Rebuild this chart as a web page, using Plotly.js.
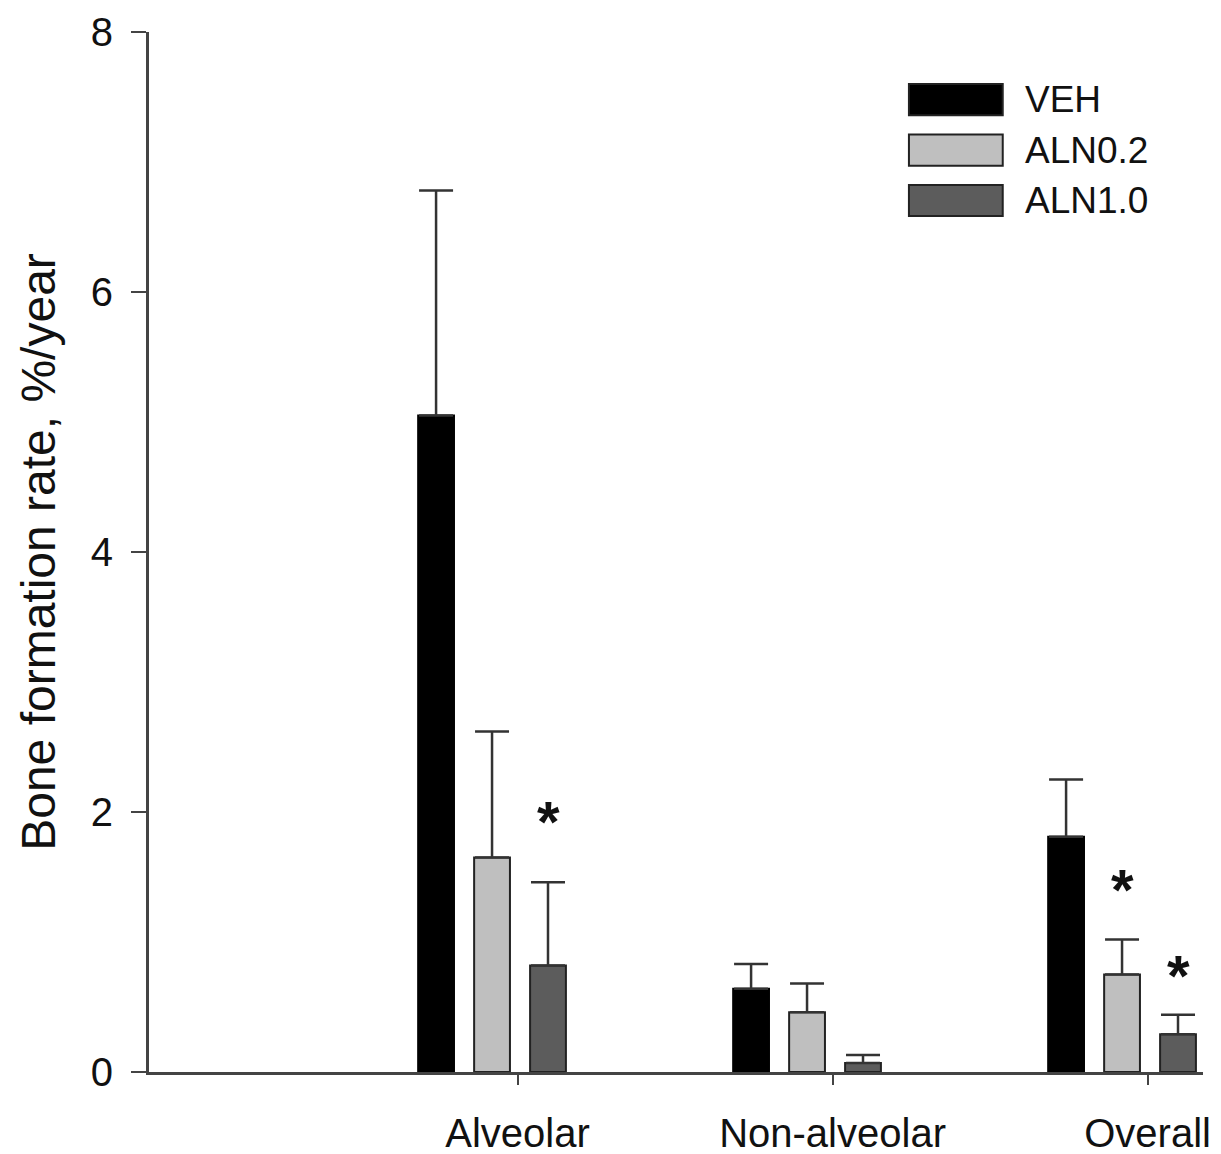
<!DOCTYPE html>
<html>
<head>
<meta charset="utf-8">
<script src="https://cdn.plot.ly/plotly-3.0.1.min.js"></script>
<style>html,body{margin:0;padding:0;background:#fff;}#chart{width:1221px;height:1154px;}</style>
</head>
<body>
<div id="chart"></div>
<script>
// ---- data ----
const categories = ['Alveolar', 'Non-alveolar', 'Overall'];
const seriesNames = ['VEH', 'ALN0.2', 'ALN1.0'];
const vehValues   = [5.05, 0.64, 1.81];
const vehErrors   = [1.73, 0.19, 0.44];
const aln02Values = [1.65, 0.46, 0.75];
const aln02Errors = [0.97, 0.22, 0.27];
const aln10Values = [0.82, 0.07, 0.29];
const aln10Errors = [0.64, 0.06, 0.15];
// significance markers: category, series index, height of the star
const starCategories = ['Alveolar', 'Overall', 'Overall'];
const starSeries     = [2, 1, 2];
const starHeights    = [1.98, 1.46, 0.80];
const yTickValues = [0, 2, 4, 6, 8];

// ---- styles ----
const fills = ['#000000', '#bfbfbf', '#5c5c5c'];
const outlines = ['#000000', '#222222', '#222222'];
const FONT = 'Liberation Sans, Arial, Helvetica, sans-serif';
const values = [vehValues, aln02Values, aln10Values];
const errors = [vehErrors, aln02Errors, aln10Errors];

const traces = seriesNames.map((name, i) => ({
  type: 'bar',
  name: name,
  x: categories,
  y: values[i],
  marker: { color: fills[i], line: { color: outlines[i], width: 2 } },
  error_y: {
    type: 'data', symmetric: false,
    array: errors[i], arrayminus: errors[i].map(() => 0),
    color: '#333333', thickness: 2.5, width: 17
  },
  showlegend: false,
  hoverinfo: 'x+y+name'
}));

// helper trace carrying the offset category tick axis
traces.push({
  type: 'scatter', mode: 'markers', x: categories, y: categories.map(() => null),
  xaxis: 'x2', yaxis: 'y', showlegend: false, hoverinfo: 'skip'
});

const pitch = 56; // px between neighbouring bars inside a group
const annotations = starCategories.map((c, k) => ({
  x: c, y: starHeights[k], xref: 'x', yref: 'y',
  xshift: (starSeries[k] - 1) * pitch,
  text: '<b>*</b>', showarrow: false,
  font: { family: FONT, size: 58, color: '#111' },
  xanchor: 'center', yanchor: 'middle', yshift: -7
}));

// custom legend (large swatches)
const shapes = [];
const legendTop = 0.935, legendStep = 0.0485;
seriesNames.forEach((name, i) => {
  const yc = legendTop - i * legendStep;
  shapes.push({
    type: 'rect', xref: 'paper', yref: 'paper',
    x0: 0.721, x1: 0.810, y0: yc - 0.0150, y1: yc + 0.0150,
    fillcolor: fills[i], line: { color: '#222', width: 2 }
  });
  annotations.push({
    x: 0.829, y: yc, xref: 'paper', yref: 'paper', text: name,
    showarrow: false, xanchor: 'left', yanchor: 'middle',
    font: { family: FONT, size: 37, color: '#111' }
  });
});

const layout = {
  width: 1221, height: 1154,
  margin: { l: 149, r: 18, t: 32, b: 82 },
  paper_bgcolor: '#fff', plot_bgcolor: '#fff',
  font: { family: FONT, color: '#111' },
  barmode: 'group', bargap: 0.467, bargroupgap: 0.36,
  showlegend: false,
  xaxis: {
    type: 'category', categoryorder: 'array', categoryarray: categories,
    range: [-1.089, 2.257], showgrid: false, zeroline: false,
    showline: true, linecolor: '#444', linewidth: 3,
    ticks: '', showticklabels: false
  },
  xaxis2: {
    type: 'category', categoryorder: 'array', categoryarray: categories,
    overlaying: 'x', anchor: 'y', side: 'bottom',
    range: [-1.170, 2.176], showgrid: false, zeroline: false, showline: false,
    ticks: 'outside', ticklen: 12, tickwidth: 2, tickcolor: '#444',
    tickfont: { family: FONT, size: 40, color: '#111' },
    ticklabelstandoff: 14
  },
  yaxis: {
    range: [0, 8], tickvals: yTickValues, ticktext: yTickValues.map(String),
    showgrid: false, zeroline: false,
    showline: true, linecolor: '#444', linewidth: 3,
    ticks: 'outside', ticklen: 15, tickwidth: 2, tickcolor: '#444',
    tickfont: { family: FONT, size: 40, color: '#111' },
    ticklabelstandoff: 10,
    title: { text: 'Bone formation rate, %/year', font: { family: FONT, size: 48, color: '#111' }, standoff: 20 },
    automargin: false
  },
  annotations: annotations,
  shapes: shapes
};

Plotly.newPlot('chart', traces, layout, { displayModeBar: false, staticPlot: true });
</script>
</body>
</html>
